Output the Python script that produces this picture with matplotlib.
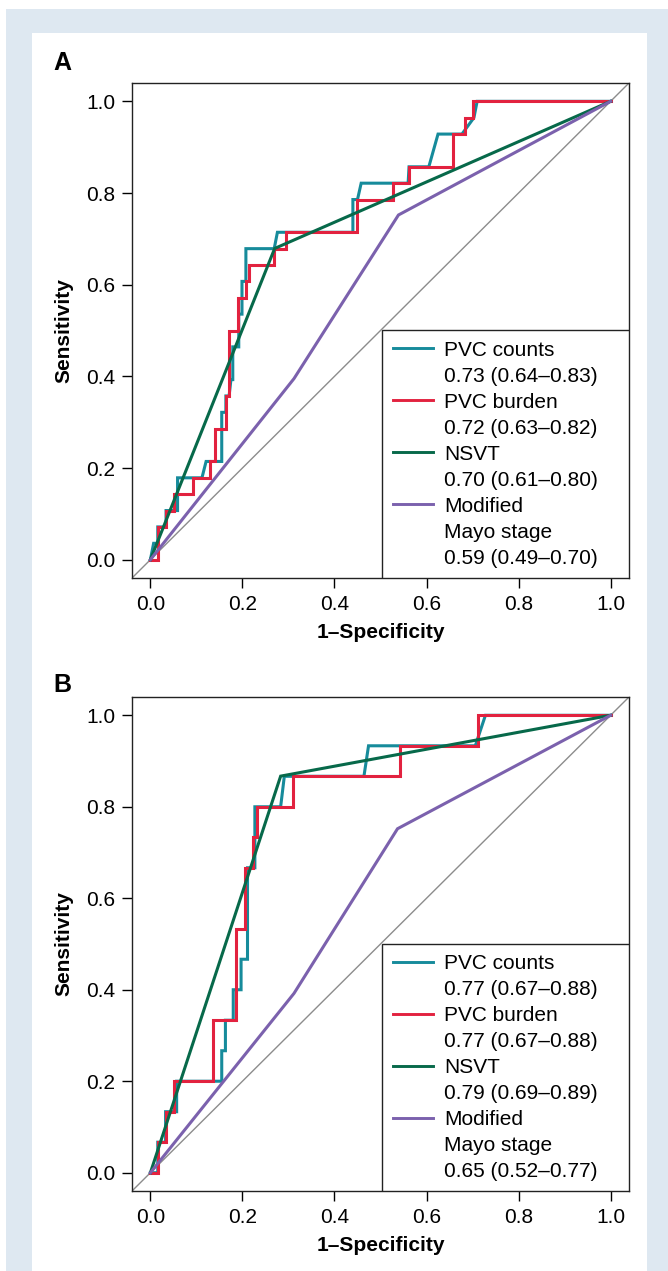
import matplotlib
matplotlib.use("Agg")
import matplotlib.pyplot as plt
from matplotlib.patches import Rectangle
from matplotlib.lines import Line2D

plt.rcParams['font.family'] = ['Liberation Sans', 'DejaVu Sans']

# ---------------- data: panel A (28 positives) ----------------
nA = 28
a_counts_fpr = [0, 0.007, 0.016, 0.016, 0.034, 0.034, 0.059, 0.059, 0.112, 0.121, 0.155, 0.155,
                0.164, 0.164, 0.171, 0.175, 0.179, 0.179, 0.192, 0.192, 0.199, 0.199, 0.2075, 0.2075,
                0.269, 0.276, 0.294, 0.440, 0.440, 0.450, 0.458, 0.560, 0.562, 0.605, 0.625, 0.677,
                0.703, 0.710, 1.0]
a_counts_k = [0, 1, 1, 2, 2, 3, 3, 5, 5, 6, 6, 9,
              9, 10, 10, 11, 11, 13, 13, 15, 15, 17, 17, 19,
              19, 20, 20, 20, 22, 22, 23, 23, 24, 24, 26, 26,
              27, 28, 28]
a_burden_fpr = [0, 0.016, 0.016, 0.034, 0.034, 0.051, 0.051, 0.092, 0.092, 0.129, 0.129, 0.140,
                0.140, 0.164, 0.164, 0.171, 0.171, 0.191, 0.191, 0.207, 0.207, 0.215, 0.215, 0.269,
                0.269, 0.294, 0.294, 0.450, 0.450, 0.527, 0.527, 0.562, 0.562, 0.657, 0.657, 0.683,
                0.683, 0.701, 0.701, 1.0]
a_burden_k = [0, 0, 2, 2, 3, 3, 4, 4, 5, 5, 6, 6,
              8, 8, 10, 10, 14, 14, 16, 16, 17, 17, 18, 18,
              19, 19, 20, 20, 22, 22, 23, 23, 24, 24, 26, 26,
              27, 27, 28, 28]
a_nsvt_fpr = [0, 0.27, 1.0]
a_nsvt_tpr = [0, 0.679, 1.0]
a_mayo_fpr = [0, 0.312, 0.539, 1.0]
a_mayo_tpr = [0, 0.395, 0.752, 1.0]
a_legend = ["PVC counts\n0.73 (0.64\u20130.83)", "PVC burden\n0.72 (0.63\u20130.82)",
            "NSVT\n0.70 (0.61\u20130.80)", "Modified\nMayo stage\n0.59 (0.49\u20130.70)"]

# ---------------- data: panel B (15 positives) ----------------
nB = 15
b_counts_fpr = [0, 0.016, 0.016, 0.033, 0.033, 0.057, 0.057, 0.155, 0.155, 0.163, 0.163, 0.180,
                0.180, 0.197, 0.197, 0.211, 0.211, 0.227, 0.227, 0.283, 0.291, 0.464, 0.474, 0.706,
                0.728, 1.0]
b_counts_k = [0, 0, 1, 1, 2, 2, 3, 3, 4, 4, 5, 5,
              6, 6, 7, 7, 10, 10, 12, 12, 13, 13, 14, 14,
              15, 15]
b_burden_fpr = [0, 0.016, 0.016, 0.033, 0.033, 0.051, 0.051, 0.135, 0.135, 0.187, 0.187, 0.206,
                0.206, 0.223, 0.223, 0.231, 0.231, 0.309, 0.309, 0.542, 0.542, 0.712, 0.712, 1.0]
b_burden_k = [0, 0, 1, 1, 2, 2, 3, 3, 5, 5, 8, 8,
              10, 10, 11, 11, 12, 12, 13, 13, 14, 14, 15, 15]
b_nsvt_fpr = [0, 0.283, 1.0]
b_nsvt_tpr = [0, 0.867, 1.0]
b_mayo_fpr = [0, 0.312, 0.537, 1.0]
b_mayo_tpr = [0, 0.392, 0.752, 1.0]
b_legend = ["PVC counts\n0.77 (0.67\u20130.88)", "PVC burden\n0.77 (0.67\u20130.88)",
            "NSVT\n0.79 (0.69\u20130.89)", "Modified\nMayo stage\n0.65 (0.52\u20130.77)"]

ticks = [0.0, 0.2, 0.4, 0.6, 0.8, 1.0]
tick_labels = ["0.0", "0.2", "0.4", "0.6", "0.8", "1.0"]

colors = ['#168b9b', '#e2223f', '#07694a', '#7b61ad']

W, H = 668, 1271
fig = plt.figure(figsize=(W / 100, H / 100), dpi=100)
fig.patch.set_facecolor('white')
fig.add_artist(Rectangle((6 / W, 0), 1 - 6 / W, 1 - 9 / H, transform=fig.transFigure,
                         facecolor='#dee8f1', edgecolor='none', zorder=-10))
fig.add_artist(Rectangle((32 / W, 0), (647 - 32) / W, 1 - 33 / H, transform=fig.transFigure,
                         facecolor='white', edgecolor='none', zorder=-9))

FS = 15


def panel(top_px, bottom_px, letter, letter_y, series, labels):
    ax = fig.add_axes([132 / W, 1 - bottom_px / H, (629 - 132) / W, (bottom_px - top_px) / H])
    ax.set_xlim(-0.04, 1.04)
    ax.set_ylim(-0.04, 1.04)
    ax.plot([-0.04, 1.04], [-0.04, 1.04], color='#8c8c8c', lw=1.0, zorder=1)
    for (x, y), c in zip(series, colors):
        ax.plot(x, y, color=c, lw=2.2, solid_joinstyle='miter', zorder=2)
    ax.set_xticks(ticks)
    ax.set_xticklabels(tick_labels)
    ax.set_yticks(ticks)
    ax.set_yticklabels(tick_labels)
    ax.tick_params(direction='out', length=7, width=1, labelsize=FS, pad=5, color='black')
    for s in ax.spines.values():
        s.set_linewidth(1.0)
        s.set_color('#222222')
    ax.set_xlabel("1\u2013Specificity", fontsize=FS, fontweight='bold', labelpad=7)
    ax.set_ylabel("Sensitivity", fontsize=FS, fontweight='bold', labelpad=9)
    # legend box
    lx0, ly1 = 0.503, 0.501
    ax.add_patch(Rectangle((lx0, 0), 1 - lx0, ly1, transform=ax.transAxes, facecolor='white',
                           edgecolor='#222222', lw=1.0, zorder=5))
    row = 26 / (bottom_px - top_px)
    y0 = ly1 - 20 / (bottom_px - top_px)
    r = 0
    for lab, c in zip(labels, colors):
        yy = y0 - r * row
        ax.add_line(Line2D([0.525, 0.606], [yy + 0.004, yy + 0.004], transform=ax.transAxes,
                           color=c, lw=2.1, zorder=6))
        for ln in lab.split("\n"):
            ax.text(0.628, y0 - r * row, ln, transform=ax.transAxes, fontsize=FS,
                    ha='left', va='center', zorder=6)
            r += 1
    fig.text(53 / W, 1 - letter_y / H, letter, fontsize=18, fontweight='bold',
             ha='left', va='center')
    return ax


seriesA = [(a_counts_fpr, [k / nA for k in a_counts_k]),
           (a_burden_fpr, [k / nA for k in a_burden_k]),
           (a_nsvt_fpr, a_nsvt_tpr),
           (a_mayo_fpr, a_mayo_tpr)]
seriesB = [(b_counts_fpr, [k / nB for k in b_counts_k]),
           (b_burden_fpr, [k / nB for k in b_burden_k]),
           (b_nsvt_fpr, b_nsvt_tpr),
           (b_mayo_fpr, b_mayo_tpr)]

panel(83, 578, "A", 63, seriesA, a_legend)
panel(697, 1191, "B", 685, seriesB, b_legend)

fig.savefig("out.png", dpi=100)
